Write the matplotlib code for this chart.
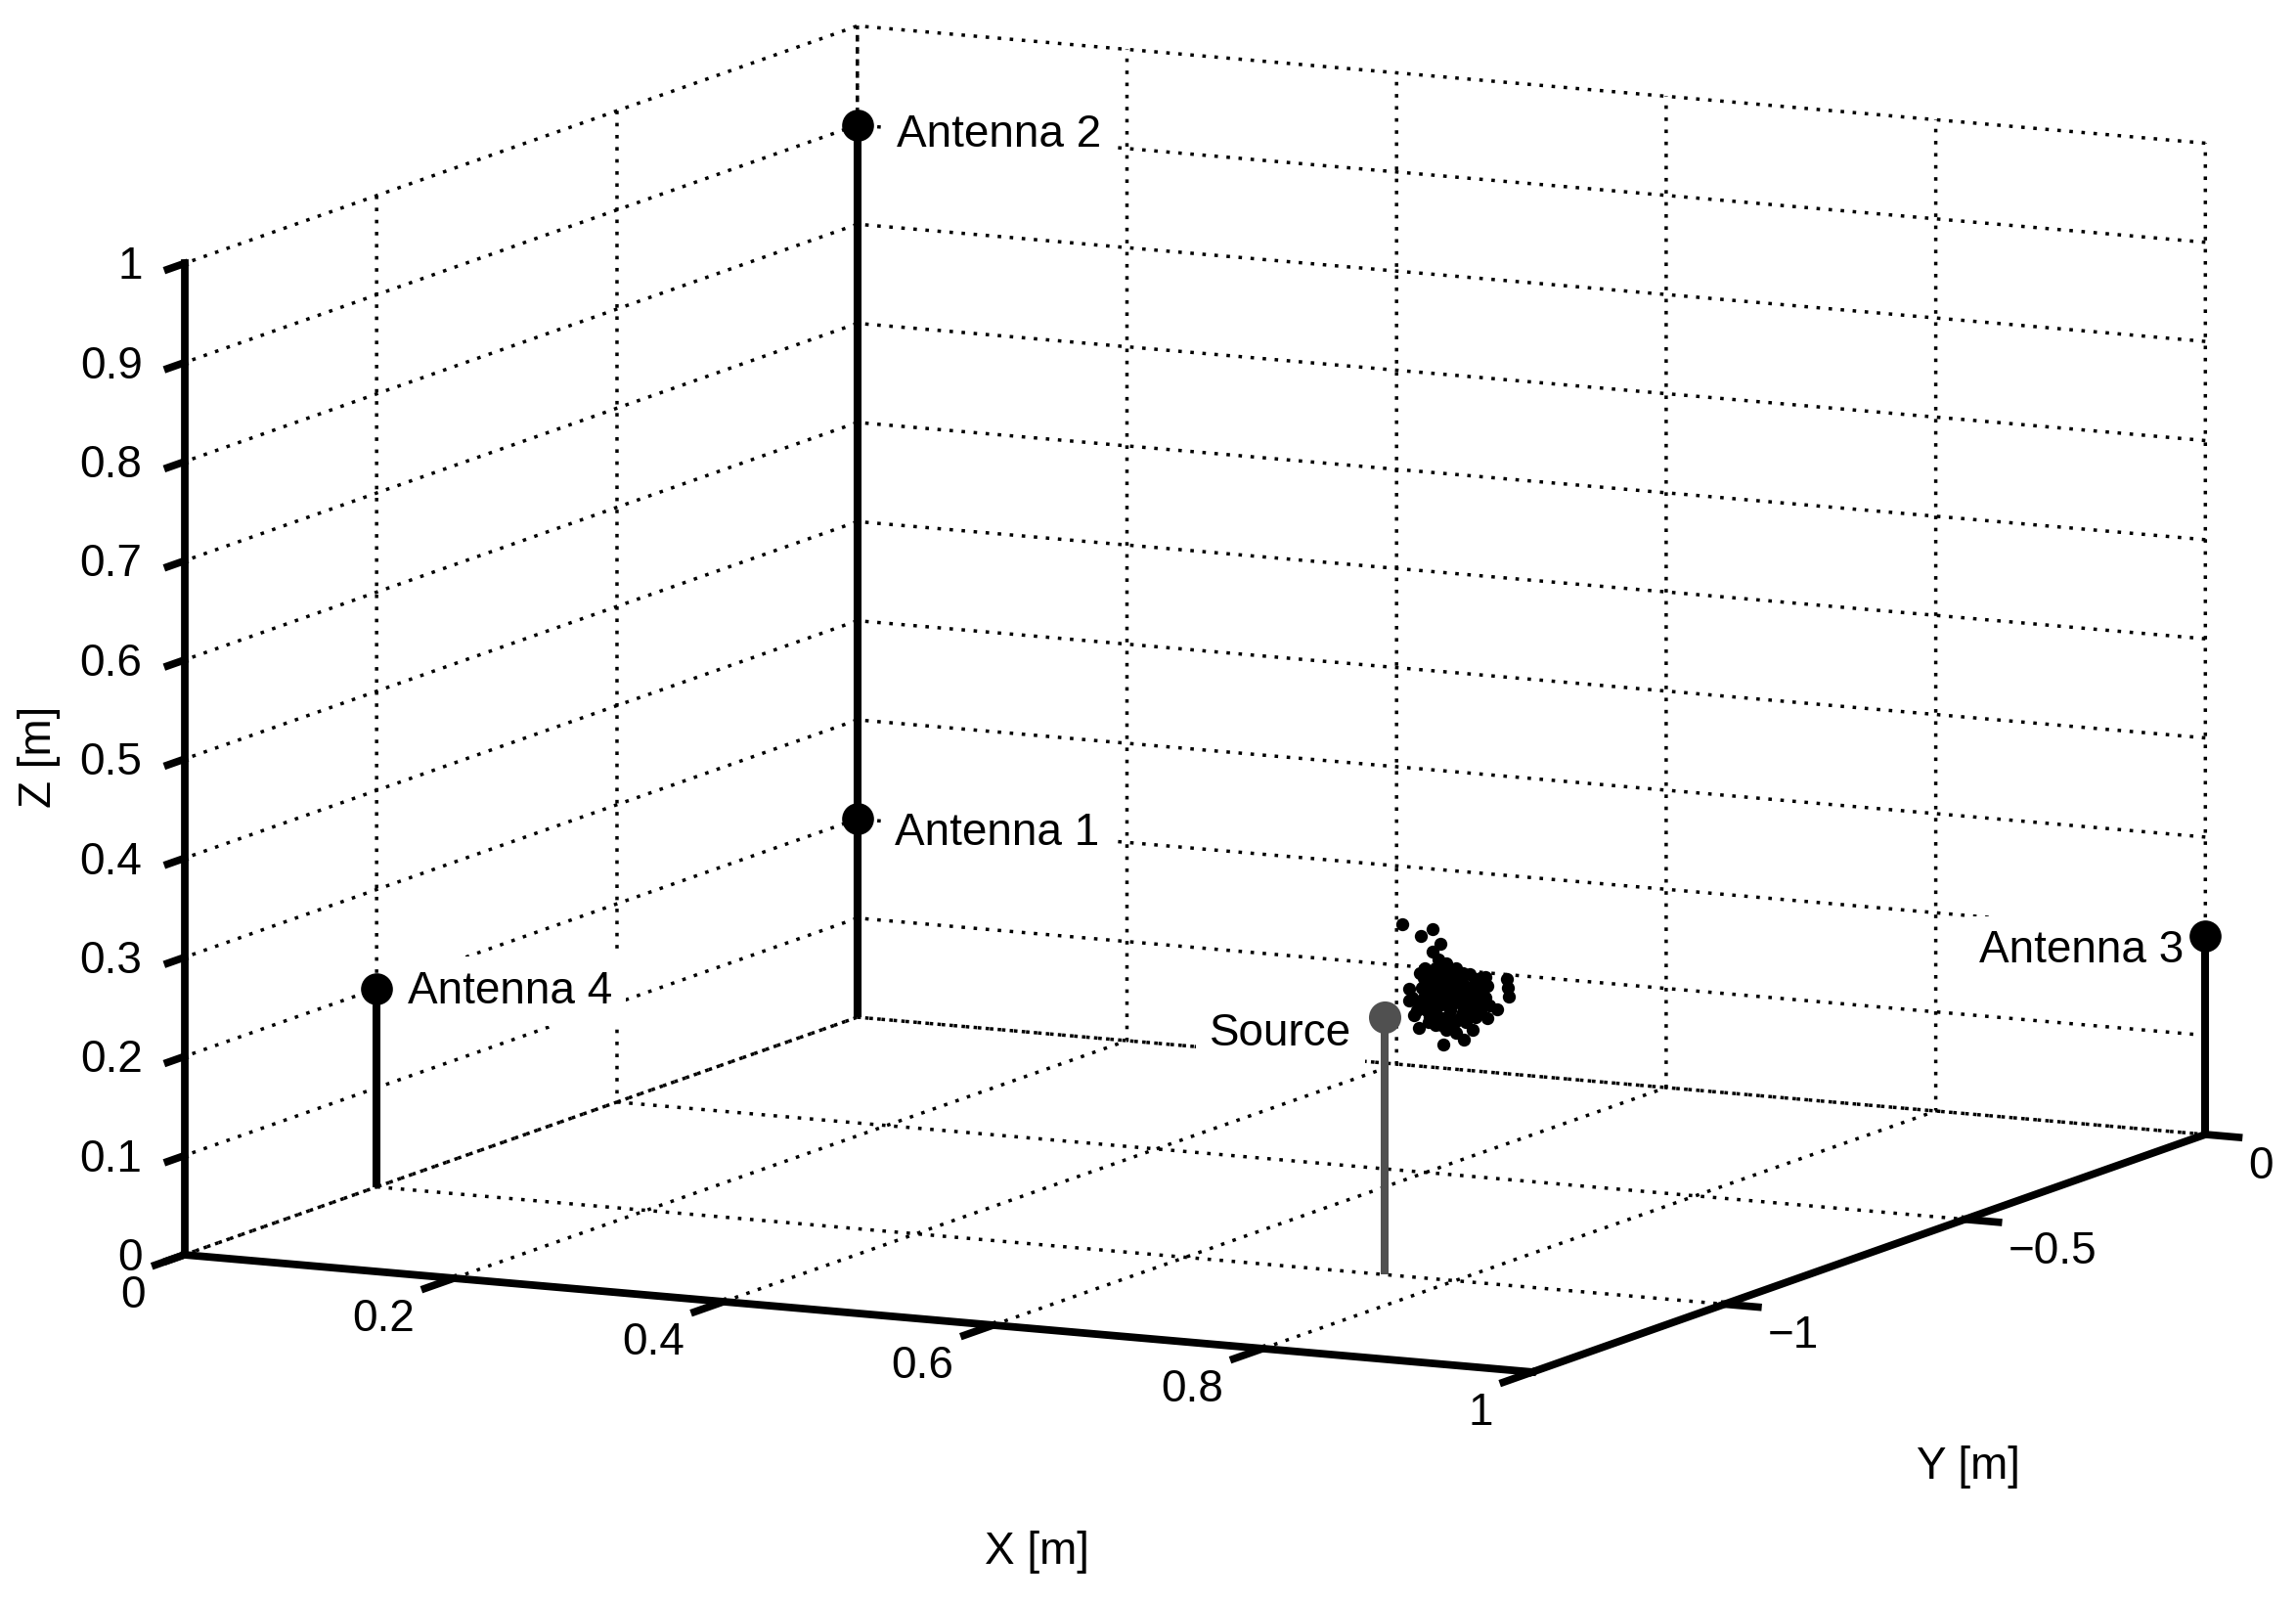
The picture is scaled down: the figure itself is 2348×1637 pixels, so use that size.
import matplotlib
matplotlib.use("Agg")
import matplotlib.pyplot as plt
from matplotlib.transforms import Affine2D
from mpl_toolkits.mplot3d import proj3d

plt.rcParams['font.family'] = ['Liberation Sans', 'DejaVu Sans']
plt.rcParams['lines.scale_dashes'] = False

# ---- data -------------------------------------------------------------
antenna_names = ['Antenna 1', 'Antenna 2', 'Antenna 3', 'Antenna 4']
antenna_x = [0.0, 0.0, 1.0, 0.0]
antenna_y = [0.0, 0.0, 0.0, -1.0]
antenna_z = [0.2, 0.9, 0.2, 0.2]

source_x = 0.748
source_y = -1.0
source_z = 0.26

cluster_x = [.7146, .7371, .7286, .7429, .7371, .7412, .7472, .7315, .7388, .7545,
             .7642, .7762, .7920, .7927, .7932, .7775, .7308, .7388, .7472, .7557,
             .7690, .7194, .7291, .7194, .7267, .7388, .7472, .7557, .7642, .7714,
             .7762, .7388, .7472, .7557, .7642, .7726, .7847, .7775, .7690, .7593,
             .7497, .7388, .7327, .7231, .7267, .7388, .7472, .7545, .7605, .7666,
             .7448, .7533, .7617, .7448,
             .7351, .7436, .7509, .7593, .7351, .7436, .7516, .7598, .7678, .7726,
             .7351, .7436, .7516, .7598, .7678, .7351, .7436, .7516, .7598, .7685,
             .7351, .7412, .7497, .7581, .7654, .7726, .7339, .7436, .7516, .7714,
             .7255, .7218, .7303, .7787, .7726, .7279]
cluster_z = [.3270, .3248, .3169, .3113, .3024, .2947, .2921, .2852, .2861, .2879,
             .2825, .2813, .2816, .2721, .2635, .2726, .2752, .2762, .2772, .2782,
             .2782, .2624, .2645, .2509, .2500, .2647, .2674, .2684, .2694, .2670,
             .2609, .2548, .2558, .2568, .2562, .2572, .2497, .2397, .2403, .2441,
             .2446, .2433, .2426, .2365, .2237, .2285, .2245, .2220, .2163, .2268,
             .2094, .2335, .2345, .2358,
             .2808, .2834, .2826, .2836, .2693, .2709, .2718, .2728, .2724, .2730,
             .2594, .2604, .2613, .2623, .2615, .2495, .2498, .2507, .2507, .2508,
             .2363, .2364, .2364, .2390, .2431, .2457, .2312, .2291, .2277, .2489,
             .2417, .2545, .2555, .2529, .2802, .2799]
cluster_y = [-0.87] * len(cluster_x)

x_ticks = [0, 0.2, 0.4, 0.6, 0.8, 1]
x_tick_labels = ['0', '0.2', '0.4', '0.6', '0.8', '1']
y_ticks = [-1, -0.5, 0]
y_tick_labels = ['\u22121', '\u22120.5', '0']
z_ticks = [0, 0.1, 0.2, 0.3, 0.4, 0.5, 0.6, 0.7, 0.8, 0.9, 1]
z_tick_labels = ['0', '0.1', '0.2', '0.3', '0.4', '0.5', '0.6', '0.7', '0.8', '0.9', '1']

# ---- layout targets (pixels, y downward) ---------------------------------
W, H = 2348, 1637
ORIGIN = (188.5, 1283.0)
XCORNER = (1567.0, 1403.0)
XLABEL_POS = (1060, 1587)
YLABEL_POS = (2013, 1500)
ZLABEL_POS = (40, 774)
FS = 33

fig = plt.figure(figsize=(W / 100, H / 100), dpi=100, facecolor='white')
S = 1500.0
ax = fig.add_axes([0.1, 0.1, S / W, S / H], projection='3d', proj_type='ortho',
                  computed_zorder=False)
ax.view_init(elev=10.09, azim=-63.6, roll=0)
ax.set_box_aspect((1027, 1033, 687))
ax.set_xlim(0, 1, view_margin=0)
ax.set_ylim(-1.4, 0, view_margin=0)
ax.set_zlim(0, 1, view_margin=0)
ax.patch.set_alpha(0)

ax.set_xticks(x_ticks, x_tick_labels)
ax.set_yticks(y_ticks, y_tick_labels)
ax.set_zticks(z_ticks, z_tick_labels)
ax.zaxis.set_ticks_position('lower')
ax.zaxis.set_label_position('lower')

factors = {'x': -0.54, 'y': -0.31, 'z': -0.31}
for name, axis in (('x', ax.xaxis), ('y', ax.yaxis), ('z', ax.zaxis)):
    axis.set_pane_color((1, 1, 1, 0))
    axis.pane.set_edgecolor('none')
    axis.line.set_linewidth(5.6)
    axis.line.set_color('k')
    info = axis._axinfo
    info['tick']['inward_factor'] = 0
    info['tick']['outward_factor'] = factors[name]
    info['tick']['linewidth'] = {True: 5.5, False: 5.5}
    info['grid'].update(color='k', linewidth=2.5, linestyle=(0, (2.6, 6.3)))
    axis.set_tick_params(length=0, pad=-8, labelsize=FS)
ax.grid(True)

offsets = {'x': (-40, -20, 'right', 'top'),
           'y': (44, -11, 'left', 'top'),
           'z': (-43, -4, 'right', 'center')}
for name, axis in (('x', ax.xaxis), ('y', ax.yaxis), ('z', ax.zaxis)):
    dx, dy, ha, va = offsets[name]
    for tick in axis.get_major_ticks():
        tick.label1.set_transform(ax.transData + Affine2D().translate(dx, dy))
        # Axis3D resets tick transforms on each draw; keep this offset one
        tick.label1.set_transform = lambda *_: None
        tick.label1.set_ha(ha)
        tick.label1.set_va(va)

# ---- marks --------------------------------------------------------------
for x, y, z in zip(antenna_x, antenna_y, antenna_z):
    ax.plot([x, x], [y, y], [0, z], color='k', lw=5.8, solid_capstyle='butt', zorder=5)
    ax.plot([x], [y], [z], 'o', color='k', ms=23.5, mew=0, zorder=8)

ax.plot([source_x, source_x], [source_y, source_y], [0, source_z], color='#505050',
        lw=5.8, solid_capstyle='butt', zorder=5)
ax.plot(cluster_x, cluster_y, cluster_z, 'o', color='k', ms=9.6, mew=0, zorder=8,
        linestyle='none')
ax.plot([source_x], [source_y], [source_z], 'o', color='#505050', ms=23.8, mew=0, zorder=9)

ax.set_xlabel('X [m]', fontsize=FS)
ax.set_ylabel('Y [m]', fontsize=FS)
ax.set_zlabel('Z [m]', fontsize=FS)
for axis in (ax.xaxis, ax.yaxis, ax.zaxis):
    axis.set_rotate_label(False)
ax.zaxis.label.set_rotation(90)

# ---- calibrate the axes box so the projected cube lands on the target -----
def project(x, y, z):
    px, py, _ = proj3d.proj_transform(x, y, z, ax.M)
    return ax.transData.transform((px, py))

for _ in range(3):
    fig.canvas.draw()
    p0 = project(0, -1.4, 0)
    p1 = project(1, -1.4, 0)
    cur = ((p1 - p0) ** 2).sum() ** 0.5
    tgt = ((XCORNER[0] - ORIGIN[0]) ** 2 + (XCORNER[1] - ORIGIN[1]) ** 2) ** 0.5
    S *= tgt / cur
    pos = ax.get_position(original=True)
    ax.set_position([pos.x0, pos.y0, S / W, S / H])
    fig.canvas.draw()
    p0 = project(0, -1.4, 0)
    pos = ax.get_position(original=True)
    ax.set_position([pos.x0 + (ORIGIN[0] - p0[0]) / W,
                     pos.y0 + ((H - ORIGIN[1]) - p0[1]) / H, S / W, S / H])
fig.canvas.draw()

# axis labels: fix their place in the flat projected coordinates of the axes
for axis, target in ((ax.xaxis, XLABEL_POS), (ax.yaxis, YLABEL_POS), (ax.zaxis, ZLABEL_POS)):
    xy = ax.transData.inverted().transform((target[0], H - target[1]))
    axis.label.set_position(xy)
    axis.label.set_position = lambda *_: None

# point labels: placed at the projection of a 3D spot next to each marker
label_box = dict(facecolor='white', edgecolor='none', pad=10)
label_names = antenna_names + ['Source']
label_x = antenna_x + [source_x]
label_y = antenna_y + [source_y]
label_z = antenna_z + [source_z]
label_dx = [0.028, 0.029, -0.016, 0.023, -0.025]
label_dz = [-0.0115, -0.007, -0.0168, 0.0, -0.02]
label_ha = ['left', 'left', 'right', 'left', 'right']
for n, x, y, z, dx, dz, ha in zip(label_names, label_x, label_y, label_z,
                                  label_dx, label_dz, label_ha):
    px, py, _ = proj3d.proj_transform(x + dx, y, z + dz, ax.M)
    ax.text2D(px, py, n, transform=ax.transData, fontsize=FS, ha=ha, va='center',
              zorder=7, bbox=label_box)

fig.savefig('out.png', dpi=100, facecolor='white')
